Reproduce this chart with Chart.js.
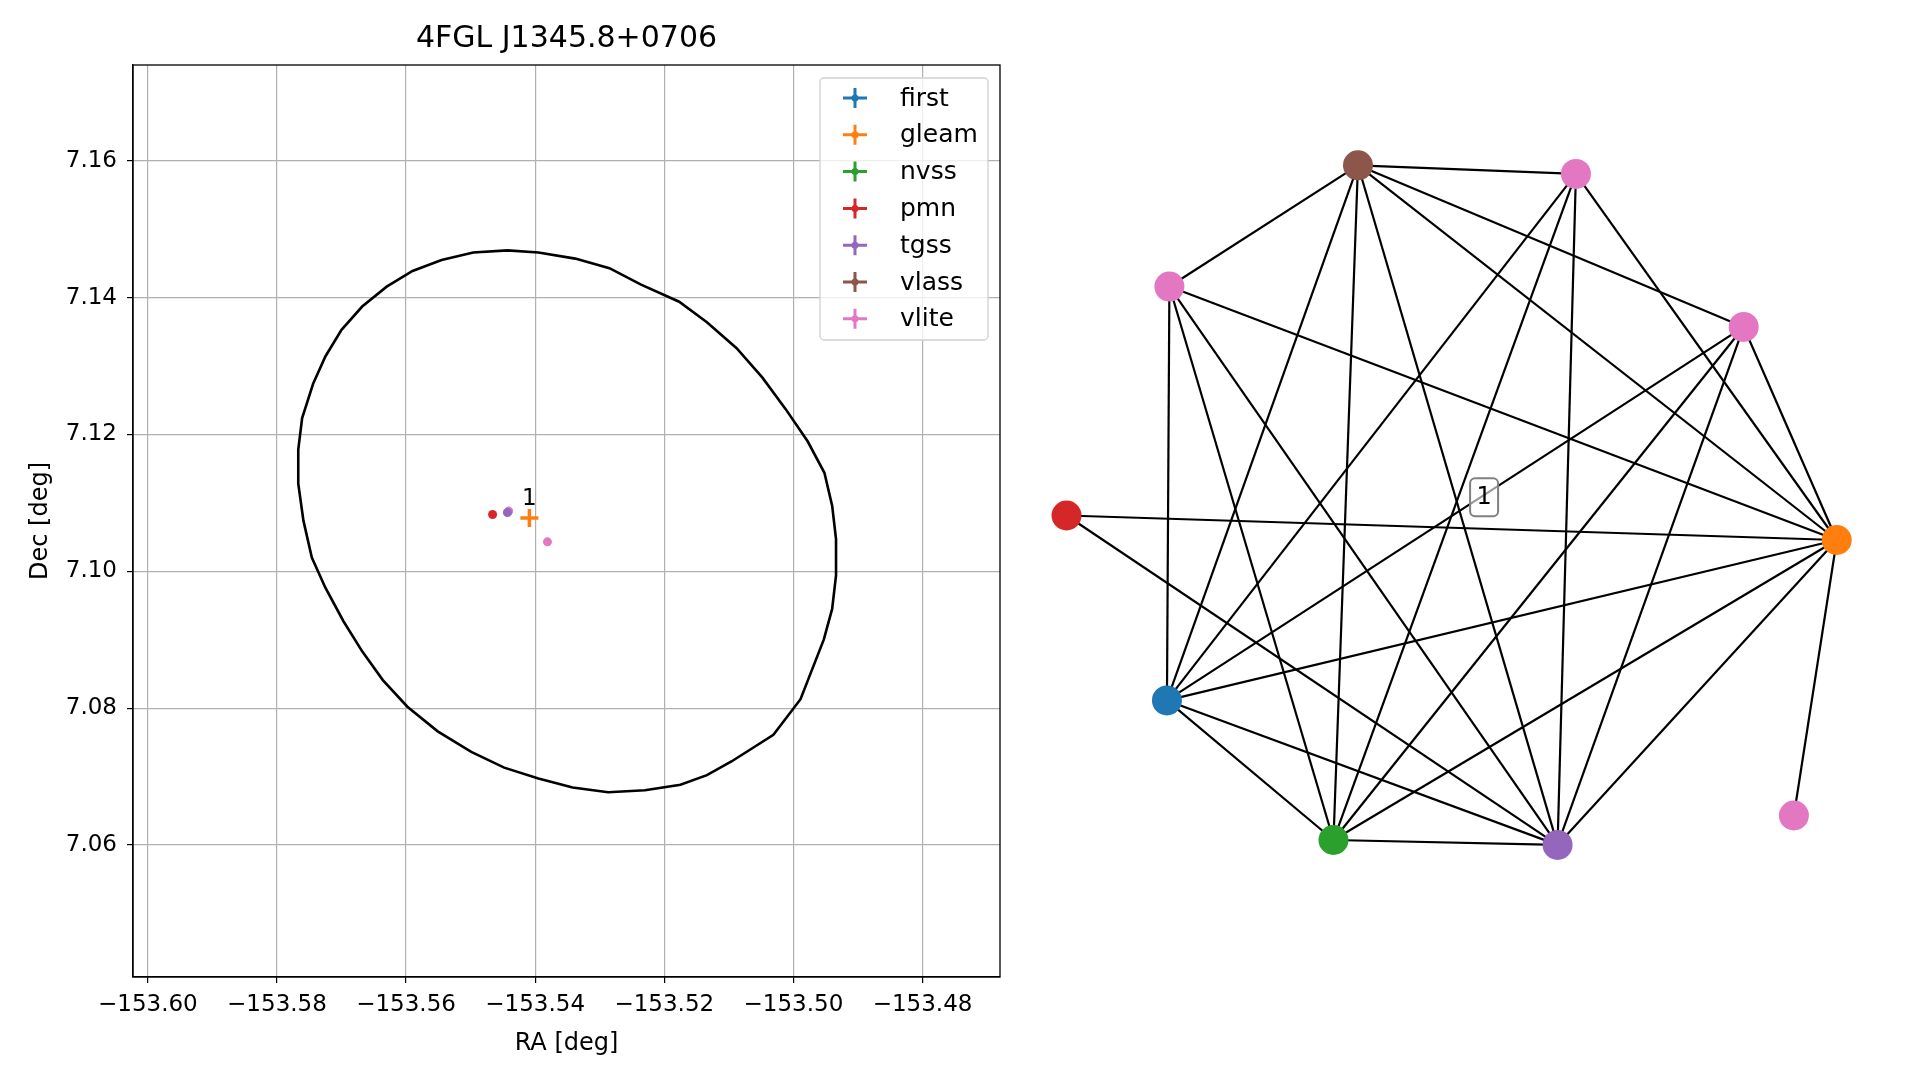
<!DOCTYPE html>
<html><head><meta charset="utf-8">
<script src="https://cdn.jsdelivr.net/npm/chart.js@4/dist/chart.umd.min.js"></script>
<style>body{margin:0;background:#fff;width:1919px;height:1080px;overflow:hidden;font-family:"DejaVu Sans"}
canvas{position:absolute}</style></head><body>
<canvas id="c1" style="left:0;top:0;width:1030px;height:1080px" width="1030" height="1080"></canvas>
<canvas id="c2" style="left:1030px;top:0;width:889px;height:1080px" width="889" height="1080"></canvas>
<script>
const chartTitle='4FGL J1345.8+0706';
const catalogs=['first','gleam','nvss','pmn','tgss','vlass','vlite'];
const colors=['#1f77b4','#ff7f0e','#2ca02c','#d62728','#9467bd','#8c564b','#e377c2'];
const catRA=[[],[-153.5409],[],[-153.5466],[-153.5443],[],[-153.5441,-153.5381]];
const catDec=[[],[7.1078],[],[7.1083],[7.1086],[],[7.1088,7.1043]];
const ellRA=[-153.5443,-153.5395,-153.5338,-153.5285,-153.5236,-153.5177,-153.5134,-153.5088,-153.5048,-153.5012,-153.4978,-153.4952,-153.4940,-153.4934,-153.4934,-153.4940,-153.4953,-153.4989,-153.5031,-153.5096,-153.5134,-153.5175,-153.5230,-153.5287,-153.5342,-153.5395,-153.5448,-153.5499,-153.5551,-153.5598,-153.5636,-153.5668,-153.5697,-153.5725,-153.5746,-153.5759,-153.5767,-153.5767,-153.5761,-153.5744,-153.5725,-153.5700,-153.5668,-153.5630,-153.5590,-153.5545,-153.5496,-153.5443];
const ellDec=[7.1469,7.1466,7.1457,7.1443,7.1419,7.1394,7.1364,7.1326,7.1283,7.1237,7.1190,7.1144,7.1096,7.1047,7.0994,7.0945,7.0900,7.0813,7.0761,7.0722,7.0702,7.0688,7.0680,7.0677,7.0684,7.0697,7.0713,7.0736,7.0766,7.0802,7.0841,7.0883,7.0927,7.0976,7.1020,7.1074,7.1128,7.1178,7.1224,7.1274,7.1314,7.1353,7.1387,7.1416,7.1439,7.1455,7.1466,7.1469];
const xTicks=[-153.60,-153.58,-153.56,-153.54,-153.52,-153.50,-153.48];
const yTicks=[7.06,7.08,7.10,7.12,7.14,7.16];
const clusterLabels=['1'];const clusterRA=[-153.5409];const clusterDec=[7.1078];
// network
const nodeNames=['B','P1','PL','PR','R','O','Bl','G','Pu','PX'];
const nodeX=[1109,1287,955,1424,871,1500,953,1089,1272,1465];
const nodeY=[135,142,234,267,421,441,572,686,690,666];
const nodeColors=['#8c564b','#e377c2','#e377c2','#e377c2','#d62728','#ff7f0e','#1f77b4','#2ca02c','#9467bd','#e377c2'];
const edges=[['B','P1'],['B','PL'],['B','PR'],['B','O'],['B','Bl'],['B','G'],['B','Pu'],
['P1','Bl'],['P1','G'],['P1','Pu'],['P1','O'],['PL','Bl'],['PL','G'],['PL','Pu'],['PL','O'],
['PR','Bl'],['PR','G'],['PR','Pu'],['PR','O'],['R','O'],['R','Pu'],['O','Bl'],['O','G'],['O','Pu'],['O','PX'],
['Bl','G'],['Bl','Pu'],['G','Pu']];
const netLabelX=[1212];const netLabelY=[406];const netLabels=['1'];

const F='DejaVu Sans';
const fmt=v=>(v<0?'\u2212':'')+Math.abs(v).toFixed(2);
const ds=[{label:'_ell',type:'line',data:ellRA.map((x,i)=>({x,y:ellDec[i]})),borderColor:'#000',borderWidth:2.6,pointRadius:0,fill:false,tension:0}];
catalogs.forEach((c,i)=>ds.push({label:c,data:catRA[i].map((x,j)=>({x,y:catDec[i][j]})),backgroundColor:colors[i],borderColor:colors[i],
 pointStyle:c==='gleam'?'cross':'circle',pointRadius:c==='gleam'?9:4.5,borderWidth:c==='gleam'?3.5:0,pointBorderWidth:c==='gleam'?3.5:0}));
const legendPl={id:'lg',afterDraw(ch){const c=ch.ctx,a=ch.chartArea;c.save();
 c.strokeStyle='#000';c.lineWidth=1.3;c.strokeRect(a.left,a.top,a.right-a.left,a.bottom-a.top);
 c.font='30px '+F;c.fillStyle='#000';c.textAlign='center';c.textBaseline='middle';c.fillText(chartTitle,(a.left+a.right)/2,39);
 c.fillStyle='rgba(255,255,255,0.8)';c.strokeStyle='#d0d0d0';c.lineWidth=1.3;c.beginPath();c.roundRect(820,78,168,262,4);c.fill();c.stroke();
 c.font='25px '+F;c.textBaseline='middle';c.textAlign='left';
 catalogs.forEach((t,i)=>{const y=98+i*36.8,x=855;c.strokeStyle=colors[i];c.lineWidth=3;c.beginPath();c.moveTo(x-12,y);c.lineTo(x+12,y);c.moveTo(x,y-10);c.lineTo(x,y+10);c.stroke();
  c.fillStyle=colors[i];c.beginPath();c.arc(x,y,3.5,0,7);c.fill();c.fillStyle='#000';c.fillText(t,900,y+1);});c.restore();}};
const labelPl={id:'lp',afterDatasetsDraw(ch){const c=ch.ctx;c.save();c.font='23px '+F;c.fillStyle='#000';c.textAlign='center';c.textBaseline='bottom';
 clusterLabels.forEach((t,i)=>c.fillText(t,ch.scales.x.getPixelForValue(clusterRA[i]),ch.scales.y.getPixelForValue(clusterDec[i])-7));c.restore();}};
const tickSet=arr=>function(a){a.ticks=arr.map(v=>({value:v}));};
new Chart(document.getElementById('c1'),{type:'scatter',data:{datasets:ds},plugins:[legendPl,labelPl],
options:{responsive:false,animation:false,devicePixelRatio:1,layout:{padding:{left:22,right:30,bottom:22,top:65}},
 plugins:{title:{display:false},tooltip:{enabled:false},legend:{display:false}},
 scales:{x:{type:'linear',min:-153.6023,max:-153.4680,afterBuildTicks:tickSet(xTicks),afterFit(s){s.height=81;},
   grid:{color:'#b0b0b0',lineWidth:1.2,tickLength:6,tickColor:'#000'},border:{color:'#000',width:1.3},
   ticks:{font:{family:F,size:23},color:'#000',callback:fmt,maxRotation:0,autoSkip:false,padding:8},
   title:{display:true,text:'RA [deg]',font:{family:F,size:24},color:'#000',padding:{top:2,bottom:0}}},
  y:{type:'linear',min:7.0407,max:7.1740,afterBuildTicks:tickSet(yTicks),afterFit(s){s.width=111;},
   grid:{color:'#b0b0b0',lineWidth:1.2,tickLength:6,tickColor:'#000'},border:{color:'#000',width:1.3},
   ticks:{font:{family:F,size:23},color:'#000',callback:fmt,autoSkip:false,padding:10},
   title:{display:true,text:'Dec [deg]',font:{family:F,size:24},color:'#000',padding:{bottom:4}}}}}});
// network chart
const idx=n=>nodeNames.indexOf(n);
const nds=edges.map(e=>({type:'line',order:2,data:[{x:nodeX[idx(e[0])],y:nodeY[idx(e[0])]},{x:nodeX[idx(e[1])],y:nodeY[idx(e[1])]}],borderColor:'#000',borderWidth:2.2,pointRadius:0,pointHoverRadius:0,showLine:true,fill:false}));
nds.push({type:'scatter',order:0,data:nodeX.map((x,i)=>({x,y:nodeY[i]})),backgroundColor:nodeColors,pointBackgroundColor:nodeColors,pointRadius:15,pointBorderWidth:0,borderWidth:0});
const netLab={id:'nl',afterDatasetsDraw(ch){const c=ch.ctx;c.save();c.font='24px '+F;c.textAlign='center';c.textBaseline='middle';
 netLabels.forEach((t,i)=>{const x=ch.scales.x.getPixelForValue(netLabelX[i]),y=ch.scales.y.getPixelForValue(netLabelY[i]);
  c.fillStyle='rgba(255,255,255,0.6)';c.strokeStyle='#808080';c.lineWidth=2;c.beginPath();c.roundRect(x-14,y-19,28,38,5);c.fill();c.stroke();
  c.fillStyle='#000';c.fillText(t,x,y+1);});c.restore();}};
new Chart(document.getElementById('c2'),{type:'scatter',data:{datasets:nds},plugins:[netLab],
options:{responsive:false,animation:false,devicePixelRatio:1,layout:{padding:0,autoPadding:false},plugins:{legend:{display:false},tooltip:{enabled:false}},
 scales:{x:{type:'linear',display:false,min:1030/1.2245,max:1919/1.2245},y:{type:'linear',display:false,reverse:true,min:0,max:1080/1.2245}}}});
</script></body></html>
